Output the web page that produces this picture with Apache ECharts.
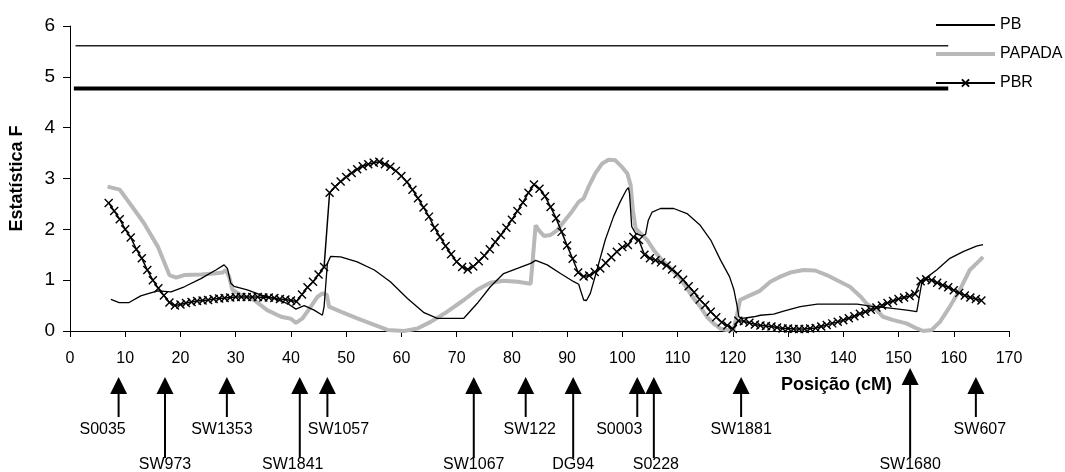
<!DOCTYPE html>
<html>
<head>
<meta charset="utf-8">
<script src="https://cdn.jsdelivr.net/npm/echarts@6/dist/echarts.min.js"></script>
<style>
html,body{margin:0;padding:0;background:#fff;}
#chart{width:1065px;height:472px;}
</style>
</head>
<body>
<div id="chart"></div>
<script>
// ---------- data ----------
var xTicks = [0, 170, 10];            // min, max, step (cM)
var yTicks = [0, 6, 1];               // min, max, step (F)

var pbPos = [7.4,8.9,10.7,12.8,14.3,15.9,18.3,20.7,23.7,26.4,27.9,28.5,29.1,29.7,32.1,34.5,36.9,39.4,40.9,42.4,44.2,45.7,46.0,46.6,47.2,49.0,52.0,55.1,58.0,61.1,64.1,66.5,71.3,73.7,76.1,78.5,81.0,83.4,84.3,86.4,88.8,91.2,92.1,92.4,93.0,93.5,94.2,95.4,96.9,98.4,99.6,100.7,101.1,101.3,101.7,102.4,103.5,104.2,104.7,105.4,106.9,109.3,111.7,114.1,116.0,117.8,119.4,120.2,120.8,121.1,121.7,123.8,125.0,127.4,129.2,132.2,135.3,142.5,144.9,148.5,151.5,153.3,154.2,154.8,156.9,159.3,161.7,164.1,165.3];
var pbVal = [0.62,0.56,0.56,0.69,0.74,0.79,0.77,0.87,1.03,1.20,1.30,1.23,0.94,0.88,0.81,0.71,0.64,0.54,0.43,0.50,0.41,0.31,0.48,1.33,1.47,1.46,1.36,1.20,0.97,0.64,0.36,0.25,0.25,0.54,0.87,1.13,1.23,1.33,1.39,1.30,1.13,0.97,0.92,0.81,0.61,0.60,0.74,1.20,1.79,2.25,2.54,2.77,2.82,2.70,2.05,1.92,1.87,1.90,2.18,2.34,2.41,2.41,2.31,2.08,1.79,1.39,1.07,0.81,0.48,0.28,0.25,0.28,0.31,0.33,0.39,0.48,0.53,0.53,0.49,0.45,0.41,0.38,0.94,1.03,1.20,1.43,1.56,1.67,1.70];

var papadaPos = [6.8,9.0,11.3,13.4,15.9,18.0,19.2,20.7,23.7,26.1,27.6,28.2,28.8,29.4,30.9,33.3,35.7,38.2,40.0,40.9,42.1,43.6,44.8,45.7,46.0,46.5,46.9,49.0,52.0,55.1,57.5,60.5,62.9,65.3,68.3,71.3,73.7,76.1,78.5,81.0,83.4,83.7,84.3,84.9,85.8,87.0,88.2,89.4,90.6,92.1,93.0,93.9,95.1,96.3,97.5,98.7,99.9,100.9,101.5,101.9,102.4,103.3,104.5,105.7,106.9,108.1,109.3,110.5,111.7,112.9,114.1,115.3,116.5,117.7,118.9,120.1,120.7,121.3,122.5,124.9,126.8,128.6,130.4,132.8,134.9,137.0,139.4,141.2,143.2,144.2,146.0,147.2,148.9,151.4,153.3,154.5,156.0,157.5,159.3,161.1,162.9,164.7,165.3];
var papadaVal = [2.84,2.78,2.44,2.12,1.66,1.10,1.05,1.10,1.11,1.13,1.15,1.20,1.07,0.81,0.71,0.61,0.41,0.28,0.24,0.16,0.25,0.48,0.67,0.74,0.77,0.71,0.48,0.38,0.25,0.12,0.02,0.0,0.05,0.18,0.38,0.61,0.81,0.95,0.99,0.97,0.93,1.30,2.08,1.98,1.87,1.89,1.98,2.15,2.31,2.54,2.61,2.84,3.10,3.29,3.37,3.36,3.23,3.10,2.87,2.38,2.02,1.92,1.79,1.59,1.43,1.30,1.17,1.03,0.84,0.64,0.48,0.28,0.15,0.05,0.02,0.02,0.28,0.61,0.67,0.79,0.97,1.07,1.15,1.20,1.19,1.10,0.97,0.87,0.67,0.54,0.41,0.28,0.22,0.15,0.05,0.0,0.02,0.18,0.48,0.81,1.20,1.39,1.46];

var pbrFirst = 7, pbrLast = 165;      // one value per cM
var pbrVal = [
2.52,2.36,2.20,2.00,1.84,1.61,1.43,1.20,1.00,0.84,
0.70,0.56,0.50,0.52,0.55,0.57,0.59,0.60,0.61,0.63,
0.64,0.65,0.66,0.67,0.67,0.67,0.67,0.67,0.66,0.66,
0.65,0.63,0.62,0.60,0.58,0.72,0.86,0.97,1.11,1.26,
2.72,2.84,2.94,3.03,3.11,3.18,3.24,3.28,3.31,3.33,
3.28,3.23,3.15,3.05,2.93,2.78,2.61,2.43,2.25,2.03,
1.85,1.67,1.51,1.36,1.26,1.21,1.27,1.37,1.48,1.61,
1.75,1.89,2.03,2.19,2.36,2.53,2.72,2.88,2.80,2.65,
2.44,2.22,1.95,1.68,1.42,1.15,1.07,1.09,1.16,1.23,
1.34,1.45,1.56,1.65,1.69,1.85,1.79,1.50,1.43,1.39,
1.35,1.29,1.21,1.12,1.01,0.88,0.76,0.62,0.51,0.38,
0.27,0.17,0.11,0.04,0.20,0.19,0.16,0.13,0.11,0.10,
0.09,0.07,0.05,0.05,0.04,0.04,0.04,0.05,0.06,0.09,
0.12,0.15,0.18,0.21,0.25,0.29,0.34,0.38,0.42,0.46,
0.50,0.55,0.59,0.63,0.66,0.69,0.73,0.98,1.02,1.00,
0.95,0.90,0.86,0.80,0.75,0.70,0.66,0.63,0.60];

var thresholdVal = [5.61, 4.77];
var thresholdFrom = [1.0, 0.7];
var thresholdTo = [159.0, 159.0];

var markerNames = ['S0035','SW973','SW1353','SW1841','SW1057','SW1067','SW122','DG94','S0003','S0228','SW1881','SW1680','SW607'];
var markerPos = [8.8,17.2,28.4,41.6,46.6,73.1,82.5,91.1,102.7,105.7,121.5,152.1,164.0];
var markerRow = [1,2,1,2,1,2,1,2,1,2,1,2,1];

// ---------- layout / style (not data) ----------
var FONT = "'Liberation Sans', Arial, sans-serif";
var labelNudge = {S0035:-16, SW1353:-5, SW1841:-7, SW1057:11, SW122:4, S0003:-18, S0228:2, SW607:4};
var raised = {SW1680: 9};

function zip(a, b){ var r=[]; for (var i=0;i<a.length;i++) r.push([a[i], b[i]]); return r; }
var pbrData = [];
for (var p = pbrFirst, k = 0; p <= pbrLast; p++, k++) pbrData.push([p, pbrVal[k]]);
var markerData = markerPos.map(function(v,i){ return [v, markerRow[i], i]; });

var chart = echarts.init(document.getElementById('chart'), null, {renderer:'canvas'});

var xMark = 'path://M0,0L10,10M10,0L0,10';
var noSymbol = {color: 'rgba(0,0,0,0)', borderWidth: 0, borderColor: 'rgba(0,0,0,0)'};

var option = {
  animation: false,
  backgroundColor: '#fff',
  textStyle: {fontFamily: FONT, color: '#000'},
  grid: {left: 69, right: 56, top: 26, bottom: 141, containLabel: false},
  legend: {
    data: [
      {name: 'PB', itemStyle: noSymbol},
      {name: 'PAPADA', itemStyle: noSymbol, lineStyle: {width: 4, color: '#b8b8b8'}},
      {name: 'PBR'}
    ],
    orient: 'vertical',
    left: 934, top: 17,
    padding: 0,
    itemWidth: 59, itemHeight: 9, itemGap: 13,
    textStyle: {fontSize: 16, color: '#000', fontFamily: FONT, lineHeight: 14}
  },
  xAxis: {
    type: 'value', min: xTicks[0], max: xTicks[1], interval: xTicks[2],
    axisLine: {show: true, lineStyle: {color: '#000', width: 1}},
    axisTick: {show: true, length: 6, inside: false, lineStyle: {color: '#000'}},
    axisLabel: {fontSize: 16, color: '#000', margin: 20, fontFamily: FONT},
    splitLine: {show: false}
  },
  yAxis: {
    type: 'value', min: yTicks[0], max: yTicks[1], interval: yTicks[2],
    name: 'Estatística F', nameLocation: 'middle', nameGap: 44,
    nameTextStyle: {fontSize: 18, fontWeight: 'bold', color: '#000', fontFamily: FONT},
    axisLine: {show: true, lineStyle: {color: '#000', width: 1}},
    axisTick: {show: true, length: 7, lineStyle: {color: '#000'}},
    axisLabel: {fontSize: 19, color: '#000', margin: 15, fontFamily: FONT},
    splitLine: {show: false}
  },
  graphic: [{
    type: 'text', left: 781, top: 376,
    style: {text: 'Posição (cM)', font: 'bold 18px ' + FONT, fill: '#000'}
  }],
  series: [
    {
      type: 'line', name: 'thr1', data: [[thresholdFrom[0], thresholdVal[0]],[thresholdTo[0], thresholdVal[0]]],
      symbol: 'none', lineStyle: {color: '#222', width: 1.5}, silent: true, z: 1
    },
    {
      type: 'line', name: 'thr2', data: [[thresholdFrom[1], thresholdVal[1]],[thresholdTo[1], thresholdVal[1]]],
      symbol: 'none', lineStyle: {color: '#000', width: 4}, silent: true, z: 1
    },
    {
      type: 'line', name: 'PAPADA', data: zip(papadaPos, papadaVal),
      symbol: 'none', lineStyle: {color: '#b8b8b8', width: 4}, itemStyle: {color: '#b8b8b8'}, z: 2
    },
    {
      type: 'line', name: 'PB', data: zip(pbPos, pbVal),
      symbol: 'none', lineStyle: {color: '#000', width: 1.3}, itemStyle: {color: '#000'}, z: 3
    },
    {
      type: 'line', name: 'PBR', data: pbrData,
      symbol: xMark, symbolSize: 8, showAllSymbol: true,
      lineStyle: {color: '#000', width: 1.5},
      itemStyle: {color: 'rgba(0,0,0,0)', borderColor: '#000', borderWidth: 1.4},
      z: 4
    },
    {
      type: 'custom', name: 'markers', data: markerData, clip: false, silent: true,
      renderItem: function(params, api){
        var i = api.value(2);
        var nm = markerNames[i];
        var x = api.coord([api.value(0), 0])[0];
        var y0 = api.coord([0, 0])[1];
        var up = raised[nm] || 0;
        var tip = y0 + 46 - up, base = y0 + 63 - up;
        var row = api.value(1);
        var lineEnd = row === 1 ? y0 + 86 : y0 + 127;
        var labelY = row === 1 ? y0 + 98.5 : y0 + 134;
        var lx = x + (labelNudge[nm] || 0);
        return {
          type: 'group',
          children: [
            {type: 'polygon', shape: {points: [[x, tip],[x - 8.5, base],[x + 8.5, base]]}, style: {fill: '#000'}},
            {type: 'line', shape: {x1: x, y1: base, x2: x, y2: lineEnd}, style: {stroke: '#000', lineWidth: 2}},
            {type: 'text', style: {text: nm, x: lx, y: labelY, align: 'center', verticalAlign: 'middle', font: '16px ' + FONT, fill: '#000'}}
          ]
        };
      }
    }
  ]
};
chart.setOption(option);
</script>
</body>
</html>
